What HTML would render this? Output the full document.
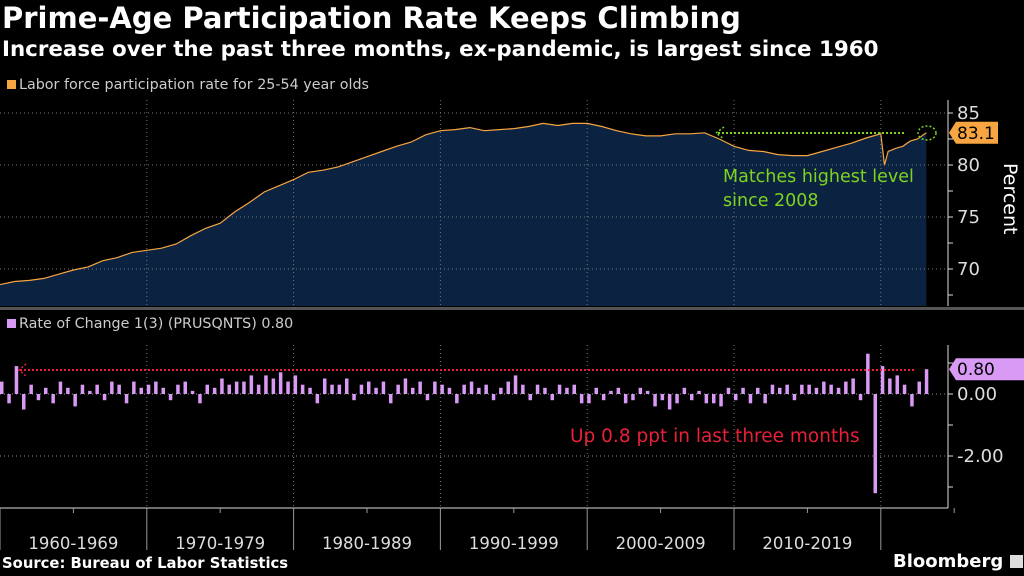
<!DOCTYPE html>
<html><head><meta charset="utf-8">
<style>
html,body{margin:0;padding:0;background:#000;}
body{width:1024px;height:576px;overflow:hidden;position:relative;font-family:"DejaVu Sans","Liberation Sans",sans-serif;}
.t{position:absolute;white-space:nowrap;color:#fff;}
</style></head>
<body>
<div class="t" style="left:2px;top:1px;font-size:29px;font-weight:bold;">Prime-Age Participation Rate Keeps Climbing</div>
<div class="t" style="left:2px;top:37px;font-size:21.4px;font-weight:bold;">Increase over the past three months, ex-pandemic, is largest since 1960</div>
<div class="t" style="left:7px;top:77px;font-size:14.3px;color:#ccc;"><span style="display:inline-block;width:9px;height:9px;background:#f7a540;margin-right:3px;"></span>Labor force participation rate for 25-54 year olds</div>
<div class="t" style="left:7px;top:316px;font-size:14.3px;color:#ccc;"><span style="display:inline-block;width:9px;height:9px;background:#d99af5;margin-right:3px;"></span>Rate of Change 1(3) (PRUSQNTS) 0.80</div>
<div class="t" style="left:2px;top:555px;font-size:14.8px;font-weight:bold;">Source: Bureau of Labor Statistics</div>
<div class="t" style="left:893px;top:551px;font-size:18px;font-weight:bold;">Bloomberg <span style="display:inline-block;width:13px;height:13px;background:#ddd;vertical-align:-1px;"></span></div>
<svg id="c" width="1024" height="576" style="position:absolute;left:0;top:0"></svg>
<script>
const years=[1960,1961,1962,1963,1964,1965,1966,1967,1968,1969,1970,1971,1972,1973,1974,1975,1976,1977,1978,1979,1980,1981,1982,1983,1984,1985,1986,1987,1988,1989,1990,1991,1992,1993,1994,1995,1996,1997,1998,1999,2000,2001,2002,2003,2004,2005,2006,2007,2008,2009,2010,2011,2012,2013,2014,2015,2016,2017,2018,2019,2020,2020.25,2020.5,2021,2021.5,2022,2022.5,2023.1];
const rate=[68.5,68.8,68.9,69.1,69.5,69.9,70.2,70.8,71.1,71.6,71.8,72.0,72.4,73.2,73.9,74.4,75.5,76.4,77.4,78.0,78.6,79.3,79.5,79.8,80.3,80.8,81.3,81.8,82.2,82.9,83.3,83.4,83.6,83.3,83.4,83.5,83.7,84.0,83.8,84.0,84.0,83.7,83.3,83.0,82.8,82.8,83.0,83.0,83.1,82.5,81.8,81.4,81.3,81.0,80.9,80.9,81.3,81.7,82.1,82.6,83.0,80.0,81.3,81.6,81.8,82.3,82.5,83.1];
const changeStart=1960, changeStep=0.5;
const changes=[0.4,-0.3,0.9,-0.5,0.3,-0.2,0.2,-0.3,0.4,0.2,-0.4,0.3,0.1,0.3,-0.2,0.4,0.3,-0.3,0.4,0.2,0.3,0.4,0.2,-0.2,0.3,0.4,0.1,-0.3,0.3,0.2,0.5,0.3,0.4,0.4,0.6,0.3,0.6,0.5,0.7,0.4,0.6,0.3,0.2,-0.3,0.5,0.3,0.3,0.5,-0.2,0.3,0.4,0.2,0.4,-0.3,0.3,0.5,0.2,0.4,-0.2,0.4,0.3,0.2,-0.3,0.3,0.4,0.2,0.3,-0.2,0.2,0.4,0.6,0.3,-0.2,0.3,0.2,-0.2,0.3,0.2,0.3,-0.3,-0.3,0.2,-0.2,0.1,0.2,-0.3,-0.2,0.2,0.1,-0.4,-0.2,-0.5,-0.3,0.2,-0.2,0.1,-0.3,-0.3,-0.4,0.2,-0.2,0.2,-0.3,0.2,-0.3,0.3,0.2,0.3,-0.2,0.3,0.3,0.2,0.4,0.3,0.2,0.4,0.5,-0.2,1.3,-3.2,0.9,0.5,0.6,0.3,-0.4,0.4,0.8];
const topTicks=[85,80,75,70];
const botTicks=[0,-2];
const botTickLabels=["0.00","-2.00"];
const decadeLabels=["1960-1969","1970-1979","1980-1989","1990-1999","2000-2009","2010-2019"];
const lastRate=83.1, lastChange=0.80;

const NS="http://www.w3.org/2000/svg";
const svg=document.getElementById('c');
function mk(tag,attrs,parent){const e=document.createElementNS(NS,tag);for(const k in attrs)e.setAttribute(k,attrs[k]);(parent||svg).appendChild(e);return e;}
const X=y=>(y-1960)*14.68;
const YT=v=>113+(85-v)*10.4;
const YB=v=>394-v*31;

let d='M'+X(years[0])+','+306;
years.forEach((y,i)=>{d+=' L'+X(y).toFixed(1)+','+YT(rate[i]).toFixed(1);});
d+=' L'+X(years[years.length-1])+',306 Z';
const area=mk('path',{d:d,fill:'#0b2341'});


for(let k=1;k<=6;k++){
  const g=mk('line',{x1:X(1960+10*k),x2:X(1960+10*k),y1:100,y2:306,stroke:'#777','stroke-dasharray':'1,3','stroke-width':1});
  
  
  const g2=mk('line',{x1:X(1960+10*k),x2:X(1960+10*k),y1:345,y2:508,stroke:'#777','stroke-dasharray':'1,3','stroke-width':1});
  
  
}
topTicks.forEach(v=>{
  const g=mk('line',{x1:0,x2:948,y1:YT(v),y2:YT(v),stroke:'#777','stroke-dasharray':'1,3'});
  
  
  mk('line',{x1:948,x2:953,y1:YT(v),y2:YT(v),stroke:'#ddd'});
  mk('line',{x1:948,x2:953,y1:YT(v-2.5),y2:YT(v-2.5),stroke:'#ddd'});
  const t=mk('text',{x:957,y:YT(v)+6,fill:'#ddd','font-size':18,'font-family':'DejaVu Sans, sans-serif'});
  t.textContent=v;
  
  
});
const line=mk('polyline',{points:years.map((y,i)=>X(y).toFixed(1)+','+YT(rate[i]).toFixed(1)).join(' '),fill:'none',stroke:'#f7a540','stroke-width':1.2});


mk('line',{x1:948,x2:948,y1:100,y2:306,stroke:'#ddd'});
const ly=YT(lastRate);
const tag=mk('path',{d:`M949,${ly} L956,${ly-11} L998,${ly-11} L998,${ly+11} L956,${ly+11} Z`,fill:'#f7a540'});


const tt=mk('text',{x:957,y:ly+6,fill:'#000','font-size':17,'font-family':'DejaVu Sans, sans-serif'});tt.textContent=lastRate.toFixed(1);
const yl=mk('text',{x:0,y:0,fill:'#fff','font-size':19,'font-family':'DejaVu Sans, sans-serif',transform:'translate(1004,163) rotate(90)'});yl.textContent='Percent';


mk('line',{x1:718,x2:906,y1:133,y2:133,stroke:'#7ed321','stroke-width':2,'stroke-dasharray':'2,2'});
mk('path',{d:'M724,127 L716,133 L724,139',fill:'none',stroke:'#7ed321','stroke-width':1.5,'stroke-dasharray':'2,2'});
mk('ellipse',{cx:927,cy:133,rx:9,ry:7,fill:'none',stroke:'#7ed321','stroke-width':1.5,'stroke-dasharray':'2,2'});
const gt=mk('text',{x:723,y:182,fill:'#7ed321','font-size':17.5,'font-family':'DejaVu Sans, sans-serif'});gt.textContent='Matches highest level';


const gt2=mk('text',{x:723,y:206,fill:'#7ed321','font-size':17.5,'font-family':'DejaVu Sans, sans-serif'});gt2.textContent='since 2008';
mk('rect',{x:0,y:307,width:1024,height:3,fill:'#555'});

botTicks.forEach((v,i)=>{
  mk('line',{x1:0,x2:948,y1:YB(v),y2:YB(v),stroke:'#888','stroke-dasharray':'1,3'});
  mk('line',{x1:948,x2:953,y1:YB(v),y2:YB(v),stroke:'#ddd'});
  const t=mk('text',{x:957,y:YB(v)+6,fill:'#ddd','font-size':18,'font-family':'DejaVu Sans, sans-serif'});
  t.textContent=botTickLabels[i];
  
  
});
mk('line',{x1:948,x2:953,y1:YB(1),y2:YB(1),stroke:'#ddd'});
mk('line',{x1:948,x2:953,y1:YB(-1),y2:YB(-1),stroke:'#ddd'});
mk('line',{x1:948,x2:953,y1:YB(-3),y2:YB(-3),stroke:'#ddd'});
changes.forEach((v,i)=>{
  const x=X(changeStart+i*changeStep);
  const r=mk('rect',{x:x.toFixed(1),y:Math.min(YB(0),YB(v)).toFixed(1),width:3.5,height:Math.max(0.5,Math.abs(YB(v)-YB(0))).toFixed(1),fill:'#d99af5'});
  
  
});
mk('line',{x1:20,x2:916,y1:370,y2:370,stroke:'#e8203a','stroke-width':2,'stroke-dasharray':'2,2'});
mk('path',{d:'M26,364 L19,370 L26,376',fill:'none',stroke:'#e8203a','stroke-width':1.5,'stroke-dasharray':'2,2'});
const rt=mk('text',{x:570,y:442,fill:'#e8203a','font-size':18.5,'font-family':'DejaVu Sans, sans-serif'});rt.textContent='Up 0.8 ppt in last three months';


const by=YB(lastChange);
const tag2=mk('path',{d:`M949,${by} L956,${by-11} L1024,${by-11} L1024,${by+11} L956,${by+11} Z`,fill:'#d99af5'});


const t2=mk('text',{x:957,y:by+6,fill:'#000','font-size':17,'font-family':'DejaVu Sans, sans-serif'});t2.textContent=lastChange.toFixed(2);
mk('line',{x1:948,x2:948,y1:345,y2:508,stroke:'#ddd'});
mk('line',{x1:0,x2:948,y1:508,y2:508,stroke:'#ddd'});
for(let k=0;k<=6;k++){
  mk('line',{x1:X(1960+10*k),x2:X(1960+10*k),y1:508,y2:550,stroke:'#999'});
  mk('line',{x1:X(1965+10*k),x2:X(1965+10*k),y1:508,y2:513,stroke:'#999'});
}
decadeLabels.forEach((l,i)=>{
  const t=mk('text',{x:X(1965+10*i),y:549,fill:'#ddd','font-size':16.5,'text-anchor':'middle','font-family':'DejaVu Sans, sans-serif'});
  t.textContent=l;
  
  
});
</script>
</body></html>
